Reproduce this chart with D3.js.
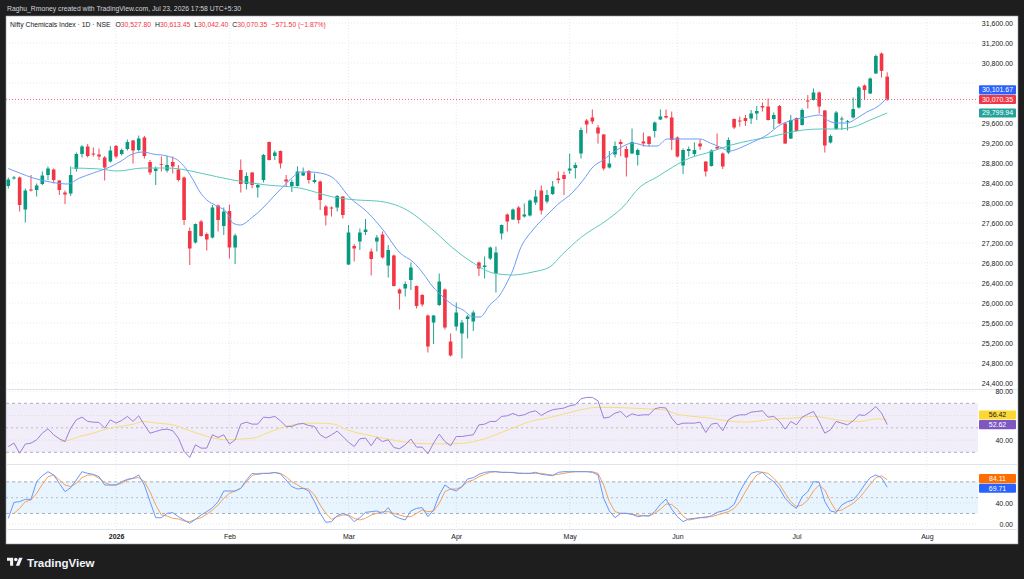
<!DOCTYPE html>
<html>
<head>
<meta charset="utf-8">
<script src="https://cdn.jsdelivr.net/npm/d3@7"></script>
<style>
html, body { margin: 0; padding: 0; background: #1e1e1e; }
svg { display: block; }
</style>
</head>
<body>
<svg id="chart" width="1024" height="579"></svg>
<script>
// ---- values (one entry per daily bar) ----
let opens = [28340,28490,28510,27870,28270,28260,28380,28560,28670,28450,
 28210,28190,28680,28980,29130,28990,28970,28910,28830,29140,
 28980,29080,29250,29060,29310,28820,28640,28780,28650,28820,
 28670,28510,27440,27210,27630,27380,27310,27950,27540,27840,
 27110,28660,28380,28610,28310,28460,29220,28940,29040,28470,
 28340,28340,28550,28640,28420,28430,27930,27910,27910,28130,
 26770,27140,27230,27420,27030,27230,27370,26750,26950,26270,
 26290,26460,26340,26160,25750,25610,25960,26270,25230,25530,
 25390,25680,25630,26810,26720,26890,26590,27390,27770,27670,
 27910,27730,27750,28010,28250,28030,28180,28490,28560,28650,
 28700,28990,29650,29710,29510,29370,28710,28970,29220,29080,
 28990,28960,29230,29330,29440,29670,29740,29710,29310,28750,
 29040,28980,29190,28830,28740,29120,28990,29010,29680,29650,
 29700,29690,29790,29940,29930,29680,29940,29590,29290,29700,
 29560,30050,30060,30210,29850,29210,29480,29670,29630,29710,
 29910,30350,30190,30590,30990,30527.80];

let highs = [28510,28540,28530,28290,28560,28390,28630,28730,28690,28460,
 28250,28730,29010,29160,29180,29110,29090,28940,29140,29160,
 29090,29270,29260,29350,29340,28860,28730,28930,28940,28930,
 28760,28530,27510,27590,27660,27410,27960,27970,27910,27970,
 27390,28870,28610,28620,28390,28980,29230,29050,29050,28560,
 28470,28730,28710,28660,28590,28450,27960,27930,28160,28140,
 27560,27180,27490,27680,27090,27360,27430,27160,26970,26290,
 26430,26810,26350,26180,25770,25760,26590,26290,25390,26010,
 25660,25760,25850,26830,26930,27130,27130,27570,27790,27890,
 27940,27990,28070,28260,28350,28260,28440,28630,28630,28990,
 28810,29510,29680,29870,29560,29380,29040,29230,29270,29140,
 29490,29090,29410,29340,29630,29870,29870,29830,29330,29090,
 29130,29210,29270,28830,29070,29390,29010,29310,29690,29730,
 29760,29860,29940,30010,30090,29810,29960,29610,29760,29710,
 29890,30160,30290,30230,29860,29370,29840,29730,29660,30110,
 30340,30370,30510,30970,31010,30613.45];

let lows = [28290,28470,27830,27610,28230,28130,28360,28460,28390,28160,
 27980,28140,28630,28910,28910,28930,28860,28450,28810,28890,
 28950,29050,28790,29030,28890,28560,28360,28630,28610,28590,
 28430,27560,26760,27190,27330,27050,27290,27430,27360,26890,
 26780,28210,28270,28290,28110,28410,28850,28860,28690,28330,
 28220,28330,28540,28390,28390,27860,27550,27730,27830,27690,
 26760,26830,27060,27360,26550,27030,26890,26510,26330,25870,
 26130,26260,25890,25930,25010,25180,25940,25470,24930,25450,
 24890,25290,25440,26540,26490,26860,26210,27270,27430,27660,
 27590,27710,27730,27960,27770,27990,28160,28390,28160,28580,
 28490,28890,29390,29580,29190,28650,28690,28910,28940,28530,
 28980,28750,29130,29130,29310,29660,29690,29060,28910,28580,
 28930,28940,29060,28530,28730,29060,28680,28980,29480,29530,
 29540,29580,29660,29830,29650,29480,29580,29180,29280,29430,
 29550,29890,30050,29790,29010,29190,29460,29460,29450,29690,
 29890,30070,30180,30580,30510,30042.40];

let closes = [28470,28510,27960,28250,28250,28350,28550,28690,28460,28260,
 28170,28560,28980,29130,28940,28970,28930,28710,29050,28930,
 29060,29220,29050,29290,28940,28610,28690,28770,28760,28730,
 28460,27660,27090,27580,27340,27270,27910,27660,27830,27110,
 27350,28380,28540,28360,28360,28960,28860,29010,28790,28430,
 28420,28630,28610,28460,28460,28060,27750,27890,28140,27760,
 27410,27090,27410,27470,26880,27310,26910,27060,26340,26190,
 26380,26710,25940,25970,25130,25750,26430,25510,24950,25810,
 25610,25730,25810,26690,26750,27110,27010,27560,27630,27870,
 27660,27770,28050,28130,27850,28160,28330,28460,28480,28690,
 28760,29460,29570,29630,29390,28690,28790,29140,29180,28910,
 29220,29060,29190,29180,29610,29730,29710,29260,28930,29060,
 29080,29060,29130,28630,29050,29090,28730,29260,29510,29630,
 29640,29790,29840,29910,29660,29760,29590,29190,29660,29440,
 29860,30030,30210,29930,29150,29340,29810,29690,29640,29880,
 30310,30260,30490,30940,30641.85,30070.35];

// moving averages, read as [bar, value] points along the drawn lines
let maFast = [[0,28690],[2,28600],[4.4,28500],[7.4,28420],[10.4,28380],[12.6,28500],[15,28600],[17.9,28720],
 [20.2,28860],[21.5,28960],[23.8,29020],[25.5,28980],[28,28940],[30.3,28820],[31.5,28660],[32.6,28460],
 [33.8,28220],[35,28060],[36.8,27940],[38.6,27800],[39.6,27600],[40.9,27560],[43.1,27720],[44.9,27900],
 [46.7,28120],[48.4,28320],[50.2,28520],[51.4,28620],[53.2,28620],[55,28600],[57.3,28500],[60.3,28100],
 [63.3,27820],[66.1,27460],[69.1,27000],[71.4,26820],[73.1,26600],[74.9,26320],[76.7,26120],[78.4,25960],
 [80.2,25860],[82,25720],[83.2,25720],[84.9,25960],[86.7,26160],[87.9,26400],[89,26660],[90.2,27060],
 [92.5,27460],[95,27760],[96.8,27960],[99.6,28220],[101.4,28460],[103.1,28720],[104.9,28860],[107.3,29060],
 [110.2,29200],[112.6,29140],[114.4,29140],[116.2,29280],[118.5,29280],[122,29280],[123.8,29200],[125.5,29120],
 [127.3,29040],[129,29100],[131.3,29220],[133.8,29360],[136.1,29560],[138.4,29660],[140.9,29720],[143.2,29760],
 [144.4,29660],[146.1,29600],[147.9,29600],[149.7,29700],[151.4,29820],[153.2,29920],[155,30101.67]];

let maSlow = [[11.2,28700],[16.2,28680],[19.2,28640],[23.8,28700],[28,28700],[30.3,28680],[33.8,28600],
 [39.6,28460],[45.6,28360],[51.4,28300],[57.3,28120],[61.5,28060],[65,28040],[70.3,27860],[74.9,27460],
 [78.4,27100],[82,26800],[85.5,26600],[89,26560],[92.5,26620],[95.5,26720],[97.6,26960],[101.1,27320],
 [105.6,27660],[108.4,27920],[111.4,28320],[114.4,28520],[117.2,28720],[120.2,28900],[123.2,29000],
 [127.5,29160],[131.3,29260],[134.3,29320],[137.3,29400],[140.2,29460],[143.2,29480],[146.1,29480],
 [149,29520],[152,29660],[155,29799.94]];

let rsi = [34.7,37.5,29.3,36.7,37.5,40.2,45.6,49.2,44.3,41.0,
 38.8,49.7,56.5,58.7,55.2,54.6,54.4,49.7,56.5,53.8,
 56.0,59.3,55.2,59.8,52.4,45.6,47.0,48.4,48.9,47.6,
 41.6,30.7,25.8,36.1,33.4,33.4,44.3,42.1,44.3,36.7,
 40.2,53.0,54.6,53.0,53.0,58.7,58.2,59.3,55.7,51.1,
 51.1,53.0,53.5,51.9,51.1,44.3,41.6,44.3,47.3,42.9,
 38.3,34.7,41.0,41.6,35.3,42.1,38.8,40.2,33.9,32.9,
 36.1,40.8,34.2,34.2,28.8,37.5,44.8,38.8,35.3,42.9,
 42.9,43.7,44.3,52.4,53.0,55.2,55.2,59.3,59.8,61.7,
 59.8,60.6,62.8,63.9,60.1,62.8,64.7,65.5,66.1,68.0,
 68.8,73.7,74.8,74.8,72.0,57.9,58.7,62.0,63.3,58.7,
 61.4,60.1,60.6,60.6,65.5,66.6,66.1,57.9,52.4,53.8,
 53.8,53.8,54.6,46.2,53.0,53.8,47.6,56.5,59.3,60.6,
 60.6,62.8,63.3,63.9,58.7,59.3,55.2,48.9,55.2,52.4,
 58.7,61.2,63.3,55.2,45.6,48.4,55.2,53.8,52.4,55.7,
 60.6,60.1,63.3,67.4,62.0,52.62];

let rsiMa = [[9.1,38.8],[10.3,39.4],[12.6,42.9],[15,45.6],[17.4,49.2],[19.7,51.1],[22.1,53.0],[23.8,55.2],
 [26.2,53.8],[29.1,52.4],[31.5,48.4],[33.8,44.8],[36.2,41.6],[38.5,40.2],[40.9,40.8],[43.2,41.6],[45.6,45.6],
 [47.9,49.7],[50.3,52.4],[52.6,53.8],[55,53.8],[57.4,53.0],[59.7,48.4],[62.6,44.8],[65.6,42.1],[68.5,39.4],
 [71.5,37.5],[74.4,36.9],[77.4,36.9],[80.3,37.5],[82.1,38.8],[84.4,41.6],[87.4,47.0],[89.7,51.1],[92.1,55.2],
 [95,57.9],[97.9,61.2],[100.9,64.7],[103.8,66.6],[106.8,66.6],[109.7,66.1],[112.6,65.5],[115.6,64.7],
 [117.9,61.2],[120.8,59.3],[123.8,57.9],[126.7,55.7],[130.2,54.6],[132.6,55.7],[135.5,57.3],[138.5,57.9],
 [142,59.3],[144.4,57.9],[147.3,55.7],[150.2,55.2],[153.2,57.3],[155,56.42]];

let stochK = [10.8,41.1,42.4,46.8,46.8,80.3,91.7,99.3,93.0,77.2,
 61.4,68.9,83.5,99.3,96.1,94.2,89.8,74.0,74.0,74.0,
 80.3,84.8,86.7,93.0,74.0,42.4,12.0,12.0,20.2,21.5,
 13.9,7.6,1.3,8.9,17.1,23.4,31.0,42.4,62.6,62.6,
 62.6,67.7,83.5,96.1,94.2,96.1,96.1,98.0,94.9,83.5,
 70.8,66.4,67.7,62.6,42.4,20.2,3.2,4.4,16.0,20.2,
 15.8,4.4,12.0,22.1,23.4,24.7,20.2,31.0,15.8,10.8,
 7.6,24.7,29.7,31.0,13.9,26.6,55.0,74.0,66.4,62.6,
 70.8,85.4,87.9,94.2,98.0,99.3,99.3,98.0,98.0,97.4,
 96.1,96.1,96.1,98.0,94.2,93.0,91.7,98.0,99.3,99.3,
 99.3,99.3,99.3,98.0,93.0,48.7,24.7,12.0,20.2,20.2,
 18.4,13.9,15.8,15.2,23.4,37.3,47.4,28.0,13.9,4.4,
 9.5,10.8,12.0,12.0,15.8,22.1,24.7,28.5,37.3,61.4,
 80.3,96.1,99.3,98.0,87.9,80.3,67.7,48.7,37.3,29.7,
 51.8,61.4,80.3,79.1,42.4,24.7,22.1,36.1,42.4,45.5,
 58.2,74.0,87.9,93.0,87.9,69.71];

let stochD = [null,20.2,29.7,42.4,45.5,58.2,75.3,89.8,93.0,83.5,
 74.0,70.8,77.2,87.9,93.0,93.0,86.7,79.1,74.0,74.0,
 77.2,83.5,86.7,87.9,80.3,61.4,36.1,17.1,15.2,10.8,
 9.5,5.7,4.4,8.9,12.0,18.4,26.6,36.1,48.7,58.2,
 62.6,67.7,80.3,91.7,96.1,96.1,96.1,97.4,96.1,89.8,
 80.3,74.0,67.7,66.4,55.0,36.1,20.2,9.0,13.9,17.1,
 17.1,10.8,7.6,10.8,17.1,20.2,23.4,23.4,20.2,17.1,
 13.9,13.9,20.2,26.6,23.4,24.7,39.2,61.4,66.4,66.4,
 70.8,80.3,83.5,89.8,94.2,98.0,99.3,98.0,98.0,98.0,
 96.7,96.1,96.1,96.1,96.1,94.2,93.0,94.2,96.1,98.0,
 99.3,99.3,99.3,99.3,96.1,74.0,42.4,23.4,20.2,20.2,
 18.4,17.1,15.8,15.2,20.2,28.0,38.0,37.0,28.0,15.0,
 7.6,9.5,12.0,13.9,13.9,17.1,20.2,23.4,29.7,42.4,
 61.4,79.1,93.0,98.0,96.1,86.7,75.3,58.2,42.4,32.9,
 36.1,45.5,62.6,74.0,64.5,42.4,24.7,26.6,32.9,39.2,
 48.7,61.4,75.3,87.9,91.7,84.11];

let priceTicks = [24400,24800,25200,25600,26000,26400,26800,27200,27600,28000,28400,28800,29200,29600,30000,30400,30800,31200,31600];
let rsiTicks = [40,60,80];
let stochTicks = [0,40,80];
let monthLabels = ['2026','Feb','Mar','Apr','May','Jun','Jul','Aug'];
let monthBars = [19,39,60,79,99,118,139,162];

// ---- layout ----
const green = '#089981', red = '#f23645', dark = '#131722';
const font = "'Liberation Sans', Arial, sans-serif";
const plotL = 6, plotR = 978, frameR = 1018;
const mainTop = 16, mainBot = 389.5, rsiBot = 464.5, stochBot = 529.5, frameBot = 544;

let svg = d3.select('#chart');
let x = d3.scaleLinear().domain([0, 155]).range([8.3, 887.2]);
let yPrice = d3.scaleLinear().domain([24400, 31600]).range([383, 23]);
let yRsi = d3.scaleLinear().domain([30, 70]).range([452.3, 403.3]);
let yStoch = d3.scaleLinear().domain([0, 100]).range([524, 471.3]);
let fmt = d3.format(',.2f');
let bars = d3.range(closes.length);
let last = closes.length - 1;

svg.append('rect').attr('width', 1024).attr('height', 579).attr('fill', '#1e1e1e');
svg.append('rect').attr('x', plotL).attr('y', mainTop).attr('width', frameR - plotL).attr('height', frameBot - mainTop)
    .attr('fill', '#fff').attr('stroke', '#9598a1').attr('stroke-width', 0.6);

svg.append('text').attr('x', 7).attr('y', 11).attr('font-family', font).attr('font-size', 6.8)
    .attr('fill', '#d1d4dc').text('Raghu_Rmoney created with TradingView.com, Jul 23, 2026 17:58 UTC+5:30');

let defs = svg.append('defs');
[['clipMain', mainTop, mainBot], ['clipRsi', mainBot, rsiBot], ['clipStoch', rsiBot, stochBot]].forEach(c => {
    defs.append('clipPath').attr('id', c[0]).append('rect')
        .attr('x', plotL).attr('y', c[1]).attr('width', plotR - plotL).attr('height', c[2] - c[1]);
});

// grids
let grid = svg.append('g').attr('stroke', '#e0e3eb').attr('stroke-width', 0.8).attr('stroke-dasharray', '1,2');
grid.selectAll('.hp').data(priceTicks).join('line')
    .attr('x1', plotL).attr('x2', plotR).attr('y1', d => yPrice(d)).attr('y2', d => yPrice(d));
grid.selectAll('.hr').data(rsiTicks).join('line')
    .attr('x1', plotL).attr('x2', plotR).attr('y1', d => yRsi(d)).attr('y2', d => yRsi(d));
grid.selectAll('.hs').data(stochTicks).join('line')
    .attr('x1', plotL).attr('x2', plotR).attr('y1', d => yStoch(d)).attr('y2', d => yStoch(d));
grid.selectAll('.v').data(monthBars).join('line')
    .attr('x1', d => x(d)).attr('x2', d => x(d)).attr('y1', mainTop).attr('y2', stochBot);

// pane separators
svg.append('g').attr('stroke', '#e0e3eb').attr('stroke-width', 1)
    .selectAll('line').data([mainBot, rsiBot, stochBot]).join('line')
    .attr('x1', plotL).attr('x2', frameR).attr('y1', d => d).attr('y2', d => d);

// ---- candles ----
let main = svg.append('g').attr('clip-path', 'url(#clipMain)');
let col = i => closes[i] >= opens[i] ? green : red;
main.selectAll('line.wick').data(bars).join('line').attr('class', 'wick')
    .attr('x1', i => x(i)).attr('x2', i => x(i))
    .attr('y1', i => yPrice(highs[i])).attr('y2', i => yPrice(lows[i]))
    .attr('stroke', col).attr('stroke-width', 0.9);
main.selectAll('rect.body').data(bars).join('rect').attr('class', 'body')
    .attr('x', i => x(i) - 1.8).attr('width', 3.6)
    .attr('y', i => yPrice(Math.max(opens[i], closes[i])))
    .attr('height', i => Math.max(0.8, Math.abs(yPrice(opens[i]) - yPrice(closes[i]))))
    .attr('fill', col);

let priceLine = d3.line().x(d => x(d[0])).y(d => yPrice(d[1])).curve(d3.curveMonotoneX);
main.append('path').datum(maSlow).attr('d', priceLine).attr('fill', 'none').attr('stroke', '#5cc8bd').attr('stroke-width', 1);
main.append('path').datum(maFast).attr('d', priceLine).attr('fill', 'none').attr('stroke', '#6d9cf8').attr('stroke-width', 1);

// last price line
main.append('line').attr('x1', plotL).attr('x2', plotR)
    .attr('y1', yPrice(closes[last])).attr('y2', yPrice(closes[last]))
    .attr('stroke', red).attr('stroke-width', 0.8).attr('stroke-dasharray', '1,2');

// ---- RSI pane ----
let rsiG = svg.append('g').attr('clip-path', 'url(#clipRsi)');
rsiG.append('rect').attr('x', plotL).attr('width', plotR - plotL)
    .attr('y', yRsi(70)).attr('height', yRsi(30) - yRsi(70)).attr('fill', 'rgba(126,87,194,0.1)');
rsiG.selectAll('line.band').data([70, 50, 30]).join('line').attr('class', 'band')
    .attr('x1', plotL).attr('x2', plotR).attr('y1', d => yRsi(d)).attr('y2', d => yRsi(d))
    .attr('stroke', d => d === 50 ? 'rgba(120,123,134,0.55)' : '#9a9ca6')
    .attr('stroke-width', 0.8).attr('stroke-dasharray', d => d === 50 ? '2,3' : '3,3');
rsiG.append('path').datum(rsiMa)
    .attr('d', d3.line().x(d => x(d[0])).y(d => yRsi(d[1])).curve(d3.curveMonotoneX))
    .attr('fill', 'none').attr('stroke', '#f7dc7a').attr('stroke-width', 1);
rsiG.append('path').datum(rsi)
    .attr('d', d3.line().x((d, i) => x(i)).y(d => yRsi(d)))
    .attr('fill', 'none').attr('stroke', '#9c7fd6').attr('stroke-width', 1);

// ---- Stochastic pane ----
let stG = svg.append('g').attr('clip-path', 'url(#clipStoch)');
stG.append('rect').attr('x', plotL).attr('width', plotR - plotL)
    .attr('y', yStoch(80)).attr('height', yStoch(20) - yStoch(80)).attr('fill', 'rgba(33,150,243,0.1)');
stG.selectAll('line.band').data([80, 50, 20]).join('line').attr('class', 'band')
    .attr('x1', plotL).attr('x2', plotR).attr('y1', d => yStoch(d)).attr('y2', d => yStoch(d))
    .attr('stroke', d => d === 50 ? 'rgba(120,123,134,0.55)' : '#9a9ca6')
    .attr('stroke-width', 0.8).attr('stroke-dasharray', d => d === 50 ? '2,3' : '3,3');
let stLine = d3.line().defined(d => d != null).x((d, i) => x(i)).y(d => yStoch(d));
stG.append('path').datum(stochD).attr('d', stLine).attr('fill', 'none').attr('stroke', '#f6a05c').attr('stroke-width', 1);
stG.append('path').datum(stochK).attr('d', stLine).attr('fill', 'none').attr('stroke', '#6a97f7').attr('stroke-width', 1);

// ---- value badges: place them first so the scale labels under them can be left out ----
function layoutBadges(list) {
    list.forEach(b => b.y = b.scale(b.v));
    list.sort((a, b) => a.y - b.y);
    for (let k = 0; k < 4; k++) {
        for (let i = 1; i < list.length; i++) {
            let a = list[i - 1], b = list[i], gap = b.y - a.y;
            if (gap < 9.6) {
                let need = 9.6 - gap;
                if (a.fixed) b.y += need;
                else if (b.fixed) a.y -= need;
                else { a.y -= need / 2; b.y += need / 2; }
            }
        }
    }
    return list;
}
let allBadges = [].concat(
    layoutBadges([
        {v: maFast[maFast.length - 1][1], scale: yPrice, bg: '#2962ff'},
        {v: closes[last], scale: yPrice, bg: red, fixed: true},
        {v: maSlow[maSlow.length - 1][1], scale: yPrice, bg: '#22a39a'}
    ]),
    layoutBadges([
        {v: rsiMa[rsiMa.length - 1][1], scale: yRsi, bg: '#fdd835', fg: dark},
        {v: rsi[last], scale: yRsi, bg: '#7e57c2', fixed: true}
    ]),
    layoutBadges([
        {v: stochD[last], scale: yStoch, bg: '#ff6d00'},
        {v: stochK[last], scale: yStoch, bg: '#2962ff'}
    ])
);
let free = y => allBadges.every(b => Math.abs(b.y - y) > 8.5);

// ---- axes ----
function rightAxis(scale, ticks) {
    svg.append('g').attr('transform', 'translate(1013,0)')
        .call(d3.axisLeft(scale).tickValues(ticks.filter(t => free(scale(t)))).tickFormat(fmt).tickSize(0).tickPadding(0))
        .call(g => g.select('.domain').remove())
        .attr('font-family', font).attr('font-size', 7).attr('color', dark);
}
rightAxis(yPrice, priceTicks);
rightAxis(yRsi, rsiTicks);
rightAxis(yStoch, stochTicks);

svg.append('g').attr('transform', 'translate(0,534)')
    .call(d3.axisBottom(x).tickValues(monthBars).tickFormat((d, i) => monthLabels[i]).tickSize(0).tickPadding(0))
    .call(g => g.select('.domain').remove())
    .attr('font-family', font).attr('font-size', 7).attr('color', dark)
    .selectAll('text').attr('font-weight', (d, i) => i === 0 ? 'bold' : 'normal');

allBadges.forEach(b => {
    svg.append('rect').attr('x', 979).attr('y', b.y - 4.6).attr('width', 37).attr('height', 9.2)
        .attr('rx', 1).attr('fill', b.bg);
    svg.append('text').attr('x', 997.5).attr('y', b.y + 2.4).attr('text-anchor', 'middle')
        .attr('font-family', font).attr('font-size', 7).attr('fill', b.fg || '#fff').text(fmt(b.v));
});

// ---- legend ----
let chg = closes[last] - closes[last - 1];
let pct = chg / closes[last - 1] * 100;
let parts = [
    ['Nifty Chemicals Index · 1D · NSE', dark, 0], ['O', dark, 5], [fmt(opens[last]), red, 0],
    ['H', dark, 4], [fmt(highs[last]), red, 0], ['L', dark, 4], [fmt(lows[last]), red, 0],
    ['C', dark, 4], [fmt(closes[last]), red, 0],
    [fmt(chg) + ' (' + d3.format('.2f')(pct) + '%)', red, 4]
];
svg.append('text').attr('x', 10).attr('y', 26.5).attr('font-family', font).attr('font-size', 6.8)
    .selectAll('tspan').data(parts).join('tspan')
    .attr('dx', d => d[2]).attr('fill', d => d[1]).text(d => d[0]);

// ---- footer logo ----
let logo = svg.append('g').attr('transform', 'translate(7,556) scale(0.44)').attr('fill', '#f0f3fa');
logo.append('path').attr('d', 'M14 22H7V11H0V4h14z');
logo.append('circle').attr('cx', 20).attr('cy', 8).attr('r', 4);
logo.append('path').attr('d', 'M28 22h-8l7.5-18h8z');
svg.append('text').attr('x', 27).attr('y', 566.5).attr('font-family', font).attr('font-size', 11.5)
    .attr('font-weight', 'bold').attr('fill', '#f0f3fa').text('TradingView');
</script>
</body>
</html>
